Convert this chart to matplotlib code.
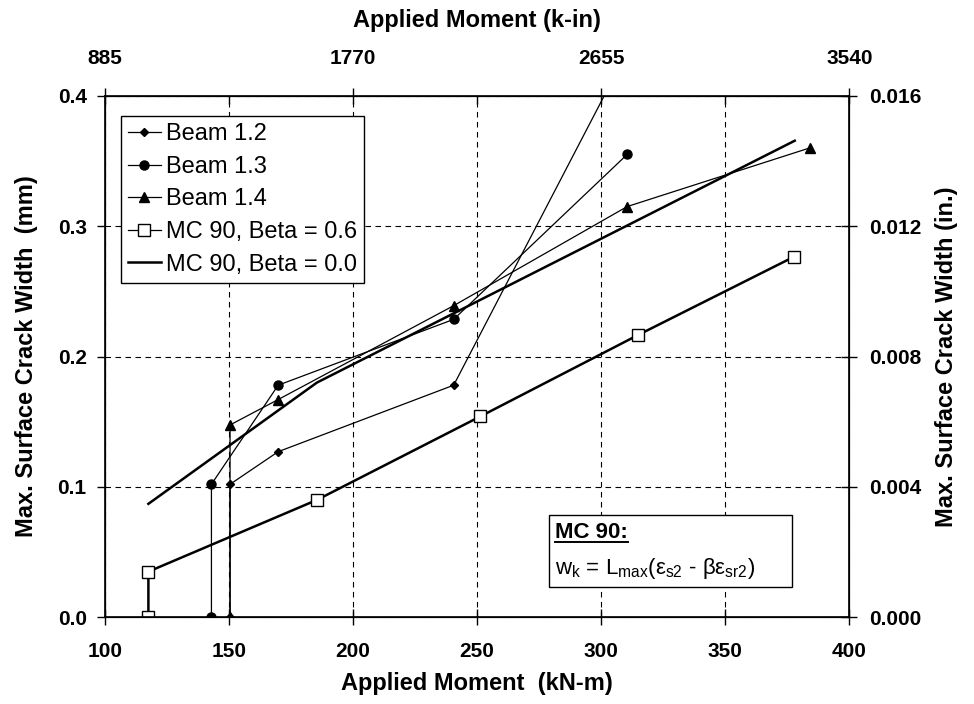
import matplotlib
matplotlib.use("Agg")
import matplotlib.pyplot as plt
from matplotlib.lines import Line2D
from matplotlib.patches import Rectangle

plt.rcParams["font.family"] = ["Liberation Sans", "DejaVu Sans"]
plt.rcParams["mathtext.fontset"] = "custom"
plt.rcParams["mathtext.rm"] = "Liberation Sans"
plt.rcParams["mathtext.it"] = "Liberation Sans:italic"

# data (moment in kN-m, crack width in mm)
b12_x = [150.5, 150.5, 169.9, 240.6, 310.0]
b12_y = [0.0, 0.102, 0.127, 0.178, 0.432]

b13_x = [143.0, 143.0, 169.9, 240.6, 310.5]
b13_y = [0.0, 0.102, 0.178, 0.2285, 0.355]

b14_x = [150.5, 150.5, 169.9, 240.6, 310.5, 384.1]
b14_y = [0.0, 0.1475, 0.167, 0.239, 0.315, 0.360]

mc06_x = [117.6, 117.6, 185.5, 251.3, 314.9, 377.7]
mc06_y = [0.0, 0.035, 0.090, 0.154, 0.2165, 0.2765]

mc00_x = [117.6, 185.5, 251.3, 314.9, 378.0]
mc00_y = [0.087, 0.180, 0.2434, 0.3047, 0.3655]

x_ticks = [100, 150, 200, 250, 300, 350, 400]
y_ticks = [0.0, 0.1, 0.2, 0.3, 0.4]
top_ticks = [100, 200, 300, 400]
top_labels = ["885", "1770", "2655", "3540"]
right_labels = ["0.000", "0.004", "0.008", "0.012", "0.016"]

TICK_FS = 15
LAB_FS = 17

fig = plt.figure(figsize=(9.74, 7.04), dpi=100)
ax = fig.add_axes([0.1075, 0.1232, 0.7645, 0.7408])

ax.plot(b12_x, b12_y, color="black", lw=0.9, marker="D", ms=4.5, label="Beam 1.2")
ax.plot(b13_x, b13_y, color="black", lw=0.9, marker="o", ms=6.5, label="Beam 1.3")
ax.plot(b14_x, b14_y, color="black", lw=0.9, marker="^", ms=6.5, label="Beam 1.4")
ax.plot(mc06_x, mc06_y, color="black", lw=1.8, marker="s", ms=8, mfc="white",
        mew=1.0, label="MC 90, Beta = 0.6")
ax.plot(mc00_x, mc00_y, color="black", lw=1.8, label="MC 90, Beta = 0.0")

ax.set_xlim(100, 400)
ax.set_ylim(0, 0.4)
ax.set_xticks(x_ticks)
ax.set_yticks(y_ticks)
ax.set_yticklabels([f"{v:.1f}" for v in y_ticks])
ax.grid(True, color="black", ls=(0, (5, 4)), lw=0.8)
ax.tick_params(axis="x", direction="inout", length=12, width=1, pad=12, labelsize=TICK_FS)
ax.tick_params(axis="y", direction="out", length=6, width=1, pad=7, labelsize=TICK_FS)
for lab in ax.get_xticklabels() + ax.get_yticklabels():
    lab.set_fontweight("bold")
for s in ax.spines.values():
    s.set_linewidth(1.2)

ax.set_xlabel("Applied Moment  (kN-m)", fontsize=LAB_FS, fontweight="bold", labelpad=8)
ax.set_ylabel("Max. Surface Crack Width  (mm)", fontsize=LAB_FS, fontweight="bold", labelpad=14)

# top axis in k-in
axt = ax.twiny()
axt.set_xlim(ax.get_xlim())
axt.set_xticks(top_ticks)
axt.set_xticklabels(top_labels, fontweight="bold", fontsize=TICK_FS)
axt.set_xticks([150, 250, 350], minor=True)
axt.tick_params(axis="x", which="major", direction="inout", length=12, width=1, pad=14)
axt.tick_params(axis="x", which="minor", direction="in", length=6, width=1)
axt.set_xlabel("Applied Moment (k-in)", fontsize=LAB_FS, fontweight="bold", labelpad=16)

# right axis in inches
axr = ax.twinx()
axr.set_ylim(ax.get_ylim())
axr.set_yticks(y_ticks)
axr.set_yticklabels(right_labels, fontweight="bold", fontsize=TICK_FS)
axr.tick_params(axis="y", direction="inout", length=12, width=1, pad=8)
axr.set_ylabel("Max. Surface Crack Width (in.)", fontsize=LAB_FS, fontweight="bold", labelpad=10)

leg = ax.legend(loc="upper left", bbox_to_anchor=(0.0215, 0.961), fontsize=17,
                frameon=True, fancybox=False, edgecolor="black", framealpha=1,
                handlelength=1.4, handletextpad=0.2, borderpad=0.3, labelspacing=0.45,
                borderaxespad=0)
leg.get_frame().set_linewidth(1.0)
for h in leg.get_lines():
    h.set_linewidth(0.9)
leg.get_lines()[4].set_linewidth(1.8)

# formula box
box = Rectangle((0.5965, 0.0587), 0.3262, 0.1375, transform=ax.transAxes,
                facecolor="white", edgecolor="black", lw=1.0, zorder=5)
ax.add_patch(box)
t1 = ax.text(0.6045, 0.163, "MC 90:", transform=ax.transAxes, fontsize=16,
             fontweight="bold", va="center", ha="left", zorder=6)
ax.text(0.6045, 0.093,
        r"w$_\mathrm{k}$ = L$_\mathrm{max}$(ε$_\mathrm{s2}$ - βε$_\mathrm{sr2}$)",
        transform=ax.transAxes, fontsize=16, va="center", ha="left", zorder=6)

fig.canvas.draw()
bb = t1.get_window_extent().transformed(ax.transAxes.inverted())
ax.add_line(Line2D([bb.x0, bb.x1], [bb.y0 + 0.002, bb.y0 + 0.002], transform=ax.transAxes,
                   color="black", lw=1.4, zorder=6))

fig.savefig("out.png", dpi=100)
